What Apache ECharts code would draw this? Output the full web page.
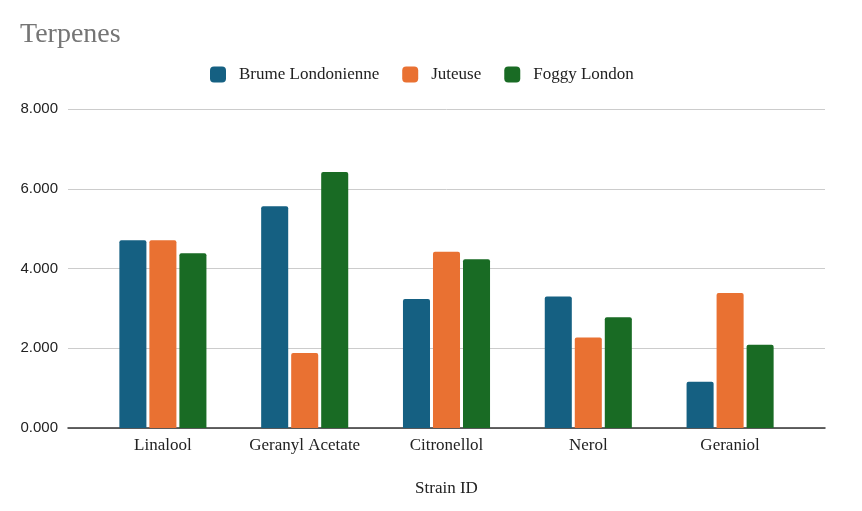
<!DOCTYPE html>
<html>
<head>
<meta charset="utf-8">
<script src="https://cdn.jsdelivr.net/npm/echarts@6/dist/echarts.min.js"></script>
<style>html,body{margin:0;padding:0;background:#fff}#c{width:862px;height:511px}</style>
</head>
<body>
<div id="c"></div>
<script>
var categories = ['Linalool', 'Geranyl Acetate', 'Citronellol', 'Nerol', 'Geraniol'];
var brume = [4.71, 5.56, 3.235, 3.30, 1.16];
var juteuse = [4.71, 1.88, 4.42, 2.27, 3.385];
var foggy = [4.38, 6.42, 4.23, 2.78, 2.09];
var yTicks = [0, 2, 4, 6, 8];

var chart = echarts.init(document.getElementById('c'));
var serif = '"Liberation Serif", "Times New Roman", serif';
var barStyle = function (c) { return { color: c, borderRadius: [2, 2, 0, 0] }; };
var yMin = yTicks[0], yMax = yTicks[yTicks.length - 1];
chart.setOption({
  animation: false,
  title: {
    text: 'Terpenes', left: 15, top: 16,
    textStyle: { fontFamily: serif, fontSize: 28, fontWeight: 'normal', color: '#757575' }
  },
  legend: {
    top: 61, left: 205, itemWidth: 16, itemHeight: 16, itemGap: 23,
    icon: 'roundRect',
    textStyle: { fontFamily: serif, fontSize: 17, color: '#222', padding: [0, 0, 0, 8] },
    data: ['Brume Londonienne', 'Juteuse', 'Foggy London']
  },
  grid: [
    { left: 92, right: 61, top: 109, bottom: 83 },
    { left: 68, right: 37, top: 109, bottom: 83 }
  ],
  xAxis: [
    {
      type: 'category', data: categories, gridIndex: 0,
      name: 'Strain ID', nameLocation: 'middle', nameGap: 52,
      nameTextStyle: { fontFamily: serif, fontSize: 17, color: '#222' },
      axisLine: { show: false },
      axisTick: { show: false },
      axisLabel: { interval: 0, fontFamily: serif, fontSize: 17, color: '#222', margin: 9 }
    },
    {
      type: 'value', gridIndex: 1, min: 0, max: 1,
      axisLine: { show: true, onZero: false, lineStyle: { color: '#333', width: 1.5 } },
      axisTick: { show: false }, axisLabel: { show: false }, splitLine: { show: false }
    }
  ],
  yAxis: [
    {
      type: 'value', gridIndex: 0, min: yMin, max: yMax, interval: 2,
      axisLine: { show: false }, axisTick: { show: false },
      axisLabel: { show: false }, splitLine: { show: false }
    },
    {
      type: 'value', gridIndex: 1, min: yMin, max: yMax, interval: 2,
      axisLine: { show: false }, axisTick: { show: false },
      splitLine: { lineStyle: { color: '#cccccc', width: 1 } },
      axisLabel: {
        fontFamily: '"Liberation Sans", Arial, sans-serif', fontSize: 15, color: '#222', margin: 10,
        formatter: function (v) { return v.toFixed(3); }
      }
    }
  ],
  series: [
    { name: 'Brume Londonienne', type: 'bar', xAxisIndex: 0, yAxisIndex: 0, data: brume, itemStyle: barStyle('#156082'), barGap: '11%', barCategoryGap: '38.6%', z: 3 },
    { name: 'Juteuse', type: 'bar', xAxisIndex: 0, yAxisIndex: 0, data: juteuse, itemStyle: barStyle('#E97132'), z: 3 },
    { name: 'Foggy London', type: 'bar', xAxisIndex: 0, yAxisIndex: 0, data: foggy, itemStyle: barStyle('#196B24'), z: 3 }
  ]
});
</script>
</body>
</html>
